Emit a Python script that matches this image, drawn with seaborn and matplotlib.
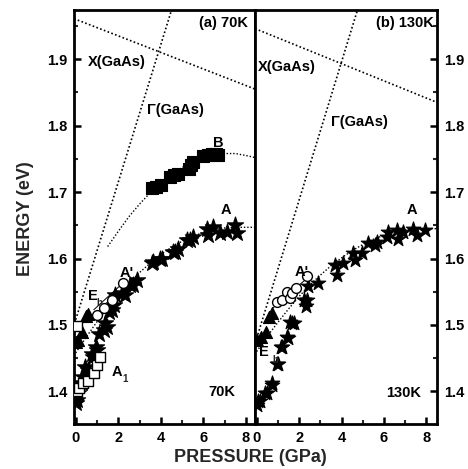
import numpy as np
import pandas as pd
import seaborn as sns
import matplotlib
matplotlib.use("Agg")
import matplotlib.pyplot as plt
from matplotlib.ticker import MultipleLocator

# ---------------- data ----------------
# Panel (a) 70K
a_star_P = [0.0, 0.05, 0.13, 0.29, 0.36, 0.46, 0.6, 0.77, 0.83, 0.93, 0.99, 1.08, 1.32, 1.39, 1.46, 1.55,
            1.69, 1.79, 1.85, 2.18, 2.32, 2.57, 2.71, 2.87, 3.57, 3.65, 3.96, 4.04, 4.59, 4.67, 4.82,
            5.22, 5.37, 5.53, 6.15, 6.23, 6.47, 6.78, 7.09, 7.48, 7.56]
a_star_E = [1.382, 1.387, 1.397, 1.412, 1.422, 1.437, 1.432, 1.457, 1.452, 1.467, 1.462, 1.487, 1.492, 1.503,
            1.497, 1.520, 1.523, 1.530, 1.545, 1.548, 1.545, 1.560, 1.560, 1.568, 1.593, 1.595, 1.600,
            1.600, 1.610, 1.610, 1.615, 1.628, 1.628, 1.633, 1.644, 1.635, 1.648, 1.638, 1.640, 1.650, 1.638]
a_B_P = [3.6, 3.75, 4.0, 4.45, 4.6, 4.8, 5.3, 5.4, 5.5, 6.0, 6.2, 6.4, 6.6, 6.7]
a_B_E = [1.706, 1.708, 1.710, 1.723, 1.725, 1.727, 1.735, 1.740, 1.746, 1.754, 1.756, 1.757, 1.757, 1.756]
a_circ_P = [1.0, 1.32, 1.71, 2.21]
a_circ_E = [1.515, 1.525, 1.538, 1.563]
a_sq_P = [0.05, 0.05, 0.15, 0.35, 0.6, 0.85, 1.0, 1.15]
a_sq_E = [1.498, 1.400, 1.405, 1.412, 1.416, 1.427, 1.440, 1.452]
a_tri_P = [0.0, 0.1, 0.3, 0.5, 0.6]
a_tri_E = [1.475, 1.478, 1.490, 1.513, 1.517]

# Panel (b) 130K
b_star_P = [0.0, 0.08, 0.16, 0.39, 0.47, 0.71, 0.71, 0.97, 1.02, 1.13, 1.18, 1.44, 1.49, 1.57, 1.65, 1.76,
            2.23, 2.31, 2.36, 2.44, 2.91, 3.69, 3.77, 4.08, 4.56, 4.64, 4.95, 5.26, 5.58, 5.66, 6.13,
            6.21, 6.6, 6.68, 6.92, 7.39, 7.55, 7.94]
b_star_E = [1.380, 1.385, 1.385, 1.397, 1.397, 1.410, 1.412, 1.442, 1.442, 1.467, 1.467, 1.482, 1.480, 1.505,
            1.503, 1.503, 1.538, 1.528, 1.538, 1.558, 1.563, 1.590, 1.575, 1.593, 1.608, 1.598, 1.608,
            1.623, 1.620, 1.625, 1.633, 1.640, 1.643, 1.630, 1.640, 1.645, 1.635, 1.643]
b_circ_P = [0.95, 1.2, 1.45, 1.57, 1.65, 1.85, 2.35]
b_circ_E = [1.535, 1.538, 1.550, 1.540, 1.548, 1.556, 1.573]
b_tri_P = [0.0, 0.19, 0.42, 0.58, 0.74]
b_tri_E = [1.477, 1.482, 1.490, 1.512, 1.518]

# Guide lines
a_X_P, a_X_E = [-0.08, 8.42], [1.961, 1.855]
a_G_P, a_G_E = [0.0, 4.5], [1.508, 1.974]
b_X_P, b_X_E = [-0.08, 8.5], [1.946, 1.835]
b_G_P, b_G_E = [0.0, 4.75], [1.480, 1.974]
a_Afit_P = [0, 0.5, 1, 1.5, 2, 2.5, 3, 3.5, 4, 4.5, 5, 5.5, 6, 6.5, 7, 7.5, 8.42]
a_Afit_E = [1.458, 1.482, 1.505, 1.526, 1.545, 1.563, 1.579, 1.593, 1.606, 1.617, 1.626, 1.634, 1.639,
            1.644, 1.646, 1.647, 1.647]
b_Afit_P = [0, 0.5, 1, 1.5, 2, 2.5, 3, 3.5, 4, 4.5, 5, 5.5, 6, 6.5, 7, 7.8, 8.5]
b_Afit_E = [1.460, 1.483, 1.504, 1.524, 1.543, 1.560, 1.575, 1.589, 1.601, 1.612, 1.621, 1.629, 1.635,
            1.640, 1.643, 1.645, 1.645]
a_Bfit_P = [1.5, 2, 2.5, 3, 3.5, 4, 4.5, 5, 5.5, 6, 6.5, 7, 7.5, 8, 8.42]
a_Bfit_E = [1.618, 1.641, 1.663, 1.682, 1.699, 1.714, 1.727, 1.737, 1.746, 1.752, 1.756, 1.758, 1.758,
            1.755, 1.752]
a_Eline_P, a_Eline_E = [0.85, 2.35], [1.523, 1.567]
b_Eline_P, b_Eline_E = [0.74, 2.47], [1.525, 1.573]
a_A1line_P, a_A1line_E = [0.0, 1.2], [1.392, 1.458]

# ---------------- style ----------------
sns.set_style("ticks")
plt.rcParams['font.family'] = ['Liberation Sans', 'DejaVu Sans']
plt.rcParams['font.weight'] = 'bold'

fig = plt.figure(figsize=(4.68, 4.69), dpi=100)
W, H = 468, 469
bot = (H - 424) / H
hgt = 414 / H
ax1 = fig.add_axes([74 / W, bot, (255 - 74) / W, hgt])
ax2 = fig.add_axes([255 / W, bot, (437 - 255) / W, hgt])

dot = (0, (1, 1.4))


def guide(ax, P, E, lw=1.2, ls=dot):
    sns.lineplot(x=P, y=E, ax=ax, color='black', linestyle=ls, linewidth=lw,
                 sort=False, estimator=None, legend=False)


def scat(ax, P, E, marker, s, fc='black', lw=0.8, z=3):
    sns.scatterplot(x=P, y=E, ax=ax, marker=marker, s=s, color=fc, edgecolor='black',
                    linewidth=lw, legend=False, zorder=z)


# Panel (a)
guide(ax1, a_X_P, a_X_E)
guide(ax1, a_G_P, a_G_E)
guide(ax1, a_Afit_P, a_Afit_E, lw=1.0)
guide(ax1, a_Bfit_P, a_Bfit_E, lw=1.0)
scat(ax1, a_star_P, a_star_E, '*', 150)
scat(ax1, a_B_P, a_B_E, 's', 75)
scat(ax1, a_tri_P, a_tri_E, '^', 75)
scat(ax1, a_sq_P, a_sq_E, 's', 45, fc='white', lw=1.0)
scat(ax1, a_circ_P, a_circ_E, 'o', 50, fc='white', lw=1.0)
guide(ax1, a_Eline_P, a_Eline_E, lw=0.7, ls='-')
guide(ax1, a_A1line_P, a_A1line_E, lw=0.7, ls='-')

# Panel (b)
guide(ax2, b_X_P, b_X_E)
guide(ax2, b_G_P, b_G_E)
guide(ax2, b_Afit_P, b_Afit_E, lw=1.0)
scat(ax2, b_star_P, b_star_E, '*', 120)
scat(ax2, b_tri_P, b_tri_E, '^', 75)
scat(ax2, b_circ_P, b_circ_E, 'o', 50, fc='white', lw=1.0)
guide(ax2, b_Eline_P, b_Eline_E, lw=0.7, ls='-')

ax1.set_xlim(-0.08, 8.42)
ax2.set_xlim(-0.08, 8.5)
for ax in (ax1, ax2):
    ax.set_ylim(1.351, 1.974)
    ax.set_xlabel('')
    ax.set_ylabel('')
    ax.xaxis.set_major_locator(MultipleLocator(2))
    ax.xaxis.set_minor_locator(MultipleLocator(1))
    ax.yaxis.set_major_locator(MultipleLocator(0.1))
    ax.yaxis.set_minor_locator(MultipleLocator(0.05))
    ax.yaxis.set_major_formatter(matplotlib.ticker.FormatStrFormatter('%.1f'))
    for sp in ax.spines.values():
        sp.set_visible(True)
        sp.set_linewidth(2.0)
        sp.set_color('black')
    ax.tick_params(which='major', direction='in', length=5, width=1.8, labelsize=10.5, pad=5,
                   colors='black')
    ax.tick_params(which='minor', direction='in', length=3, width=1.5)
    ax.tick_params(axis='x', top=False, which='both')
    for lab in ax.get_xticklabels() + ax.get_yticklabels():
        lab.set_fontweight('bold')

ax1.tick_params(axis='y', which='both', left=True, right=False, labelleft=True, labelright=False)
ax2.tick_params(axis='y', which='both', left=False, right=True, labelleft=False, labelright=True)

tk = dict(fontsize=10.5, fontweight='bold', ha='center', va='center', color='black')
# Panel (a) texts
ax1.text(6.92, 1.954, '(a) 70K', **tk)
ax1.text(1.92, 1.895, 'X(GaAs)', **tk)
ax1.text(4.69, 1.823, 'Γ(GaAs)', **tk)
ax1.text(6.69, 1.774, 'B', **tk)
ax1.text(7.06, 1.673, 'A', **tk)
ax1.text(2.41, 1.578, "A'", **tk)
ax1.text(0.80, 1.544, 'E', **tk)
ax1.text(1.12, 1.533, 'b', fontsize=7, fontweight='bold', ha='center', va='center')
ax1.text(1.95, 1.430, 'A', **tk)
ax1.text(2.30, 1.418, '1', fontsize=7, fontweight='bold', ha='center', va='center')
ax1.text(6.86, 1.399, '70K', **tk)
# Panel (b) texts
ax2.text(6.98, 1.954, '(b) 130K', **tk)
ax2.text(1.44, 1.888, 'X(GaAs)', **tk)
ax2.text(4.86, 1.806, 'Γ(GaAs)', **tk)
ax2.text(7.31, 1.673, 'A', **tk)
ax2.text(2.14, 1.580, "A'", **tk)
ax2.text(0.34, 1.460, 'E', **tk)
ax2.text(0.90, 1.447, 'b', fontsize=7, fontweight='bold', ha='center', va='center')
ax2.text(6.95, 1.398, '130K', **tk)

fig.text(250 / W, 1 - 457 / H, 'PRESSURE (GPa)', fontsize=13, fontweight='bold',
         ha='center', va='center')
fig.text(25 / W, 1 - 219 / H, 'ENERGY (eV)', fontsize=13, fontweight='bold',
         ha='center', va='center', rotation=90)

fig.savefig('out.png', dpi=100)
